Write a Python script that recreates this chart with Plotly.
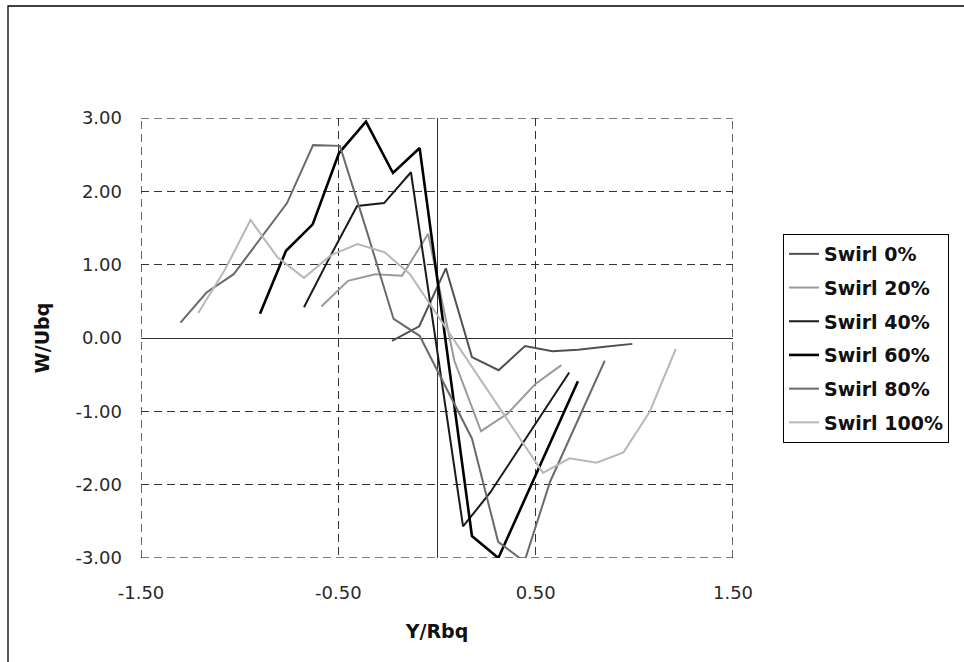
import plotly.graph_objects as go

# ---- data ----
names = ["Swirl 0%", "Swirl 20%", "Swirl 40%", "Swirl 60%", "Swirl 80%", "Swirl 100%"]

x_s0 = [-0.228, -0.090, 0.045, 0.177, 0.312, 0.446, 0.585, 0.715, 0.850, 0.990]
y_s0 = [-0.04, 0.16, 0.95, -0.26, -0.44, -0.11, -0.18, -0.16, -0.12, -0.08]

x_s20 = [-0.586, -0.451, -0.314, -0.177, -0.045, 0.088, 0.223, 0.358, 0.497, 0.630]
y_s20 = [0.43, 0.78, 0.87, 0.85, 1.42, -0.31, -1.27, -1.03, -0.63, -0.37]

x_s40 = [-0.674, -0.540, -0.405, -0.268, -0.132, 0.000, 0.132, 0.269, 0.403, 0.537, 0.670]
y_s40 = [0.42, 1.12, 1.80, 1.84, 2.26, -0.15, -2.57, -2.11, -1.56, -1.02, -0.47]

x_s60 = [-0.897, -0.765, -0.630, -0.497, -0.360, -0.223, -0.088, 0.044, 0.177, 0.311, 0.445, 0.580, 0.714]
y_s60 = [0.33, 1.19, 1.55, 2.52, 2.95, 2.25, 2.59, -0.06, -2.70, -3.00, -2.20, -1.40, -0.59]

x_s80 = [-1.300, -1.168, -1.030, -0.895, -0.760, -0.628, -0.492, -0.355, -0.220, -0.088,
         0.045, 0.177, 0.310, 0.443, 0.573, 0.712, 0.850]
y_s80 = [0.21, 0.62, 0.87, 1.36, 1.84, 2.63, 2.62, 1.45, 0.26, 0.03,
         -0.68, -1.37, -2.78, -3.05, -1.96, -1.13, -0.31]

x_s100 = [-1.210, -1.075, -0.945, -0.808, -0.674, -0.537, -0.403, -0.266, -0.137, 0.000,
          0.134, 0.269, 0.403, 0.537, 0.672, 0.808, 0.945, 1.077, 1.210]
y_s100 = [0.34, 0.93, 1.61, 1.10, 0.82, 1.13, 1.28, 1.17, 0.87, 0.32,
          -0.22, -0.76, -1.30, -1.84, -1.64, -1.70, -1.56, -1.01, -0.15]

x_ticks = [-1.5, -0.5, 0.5, 1.5]
y_ticks = [-3, -2, -1, 0, 1, 2, 3]

series_x = [x_s0, x_s20, x_s40, x_s60, x_s80, x_s100]
series_y = [y_s0, y_s20, y_s40, y_s60, y_s80, y_s100]
colors = ["#505050", "#9a9a9a", "#1a1a1a", "#000000", "#6a6a6a", "#b8b8b8"]
widths = [2, 2, 2, 2.6, 2, 2]

fig = go.Figure()
for i, nm in enumerate(names):
    fig.add_trace(go.Scatter(
        x=series_x[i], y=series_y[i], mode="lines", name=nm,
        legendgroup=nm,
        line=dict(color=colors[i], width=widths[i]),
    ))

W, H = 964, 662
L, R, T, B = 141, 733, 118, 558

def px_x(p):
    return (p - L) / (R - L)

def px_y(p):
    return (B - p) / (B - T)

tick_font = dict(family="DejaVu Sans", size=18, color="#2a2a2a")
title_font = dict(family="DejaVu Sans", size=19, color="#111111", weight="bold")
grid_dash = "8px,5px"
edge_line = dict(color="#000000", width=1.2, dash=grid_dash)

fig.update_layout(
    width=W, height=H,
    margin=dict(l=L, r=W - R, t=T, b=H - B),
    paper_bgcolor="white", plot_bgcolor="white",
    showlegend=True,
    legend=dict(
        x=px_x(783), y=px_y(234), xanchor="left", yanchor="top",
        bordercolor="#000000", borderwidth=1,
        font=dict(family="DejaVu Sans", size=19, color="#111111", weight="bold"),
        tracegroupgap=6,
        bgcolor="white",
    ),
    xaxis=dict(
        range=[-1.5, 1.5], tickvals=x_ticks, ticktext=[f"{v:.2f}" for v in x_ticks],
        showgrid=True, gridcolor="#333333", gridwidth=1, griddash=grid_dash,
        zeroline=True, zerolinecolor="#333333", zerolinewidth=1,
        showline=False, ticks="", tickfont=tick_font, ticklabelstandoff=22,
        title=dict(text="Y/Rbq", font=title_font, standoff=22),
        fixedrange=True,
    ),
    yaxis=dict(
        range=[-3, 3], tickvals=y_ticks, ticktext=[f"{v:.2f}" for v in y_ticks],
        showgrid=True, gridcolor="#333333", gridwidth=1, griddash=grid_dash,
        zeroline=True, zerolinecolor="#333333", zerolinewidth=1,
        showline=False, ticks="", tickfont=tick_font, ticklabelstandoff=18,
        title=dict(text="W/Ubq", font=title_font, standoff=20),
        fixedrange=True,
    ),
    shapes=[
        # outer chart border
        dict(type="rect", xref="paper", yref="paper",
             x0=px_x(8), x1=px_x(975), y0=px_y(675), y1=px_y(6),
             line=dict(color="#000000", width=1.3), fillcolor="rgba(0,0,0,0)", layer="below"),
        # dashed plot-area edges (gridlines at the range ends)
        dict(type="line", xref="x", yref="paper", x0=-1.5, x1=-1.5, y0=0, y1=1,
             line=edge_line, layer="below"),
        dict(type="line", xref="x", yref="paper", x0=1.5, x1=1.5, y0=0, y1=1,
             line=edge_line, layer="below"),
        dict(type="line", xref="paper", yref="y", x0=0, x1=1, y0=3, y1=3,
             line=edge_line, layer="below"),
        dict(type="line", xref="paper", yref="y", x0=0, x1=1, y0=-3, y1=-3,
             line=edge_line, layer="below"),
    ],
)

fig.write_html("out.html")
